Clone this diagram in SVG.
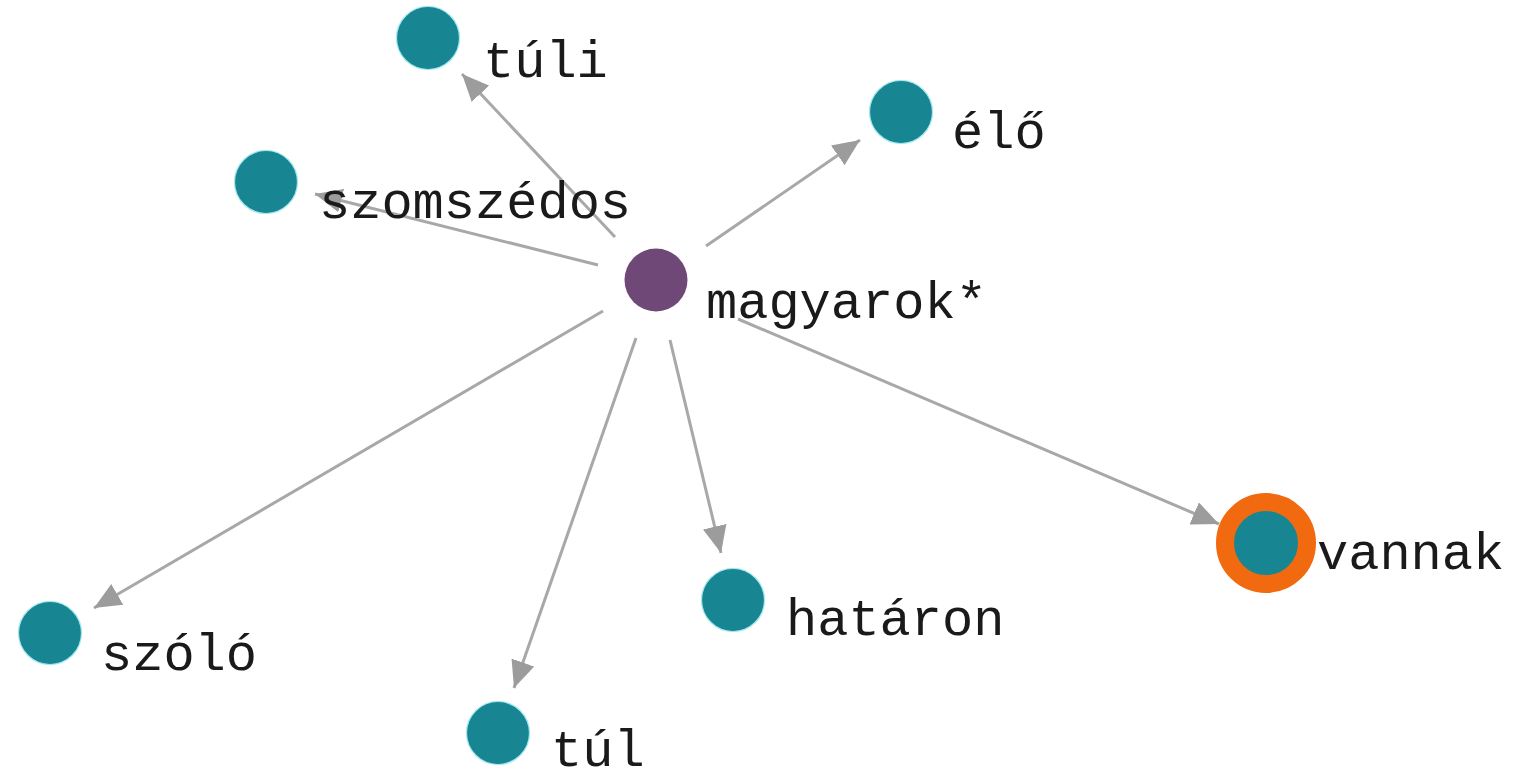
<svg xmlns="http://www.w3.org/2000/svg" width="1516" height="777" viewBox="0 0 1516 777">
  <defs>
    <marker id="arrow" viewBox="0 0 27 24" refX="27" refY="12" markerWidth="27" markerHeight="24" markerUnits="userSpaceOnUse" orient="auto">
      <path d="M0,0 L27,12 L0,24 Z" fill="#9c9c9c"/>
    </marker>
    <style>
      .edge { stroke: #a8a8a8; stroke-width: 3; fill: none; marker-end: url(#arrow); }
      .leaf { fill: #178692; stroke: #9fe8ef; stroke-width: 1.2; }
      .hub { fill: #6f4878; }
      .ring { stroke: #f26a0f; stroke-width: 18; }
      .label { font-family: "Liberation Mono", "Courier New", monospace; font-size: 52px; fill: #1a1a1a; }
    </style>
  </defs>
  <rect width="1516" height="777" fill="#ffffff"/>

  <!-- connectors from the hub to every leaf -->
  <g id="edges">
    <line class="edge" x1="615" y1="237" x2="462" y2="74"/>
    <line class="edge" x1="598" y1="265" x2="315" y2="194"/>
    <line class="edge" x1="706" y1="246" x2="860" y2="140"/>
    <line class="edge" x1="738" y1="319" x2="1219" y2="524"/>
    <line class="edge" x1="670" y1="340" x2="721" y2="553"/>
    <line class="edge" x1="636" y1="338" x2="514" y2="688"/>
    <line class="edge" x1="603" y1="311" x2="94" y2="608"/>
  </g>

  <g id="node-tuli">
    <circle class="leaf" cx="428" cy="38" r="31.5"/>
    <text class="label" x="483" y="77">túli</text>
  </g>
  <g id="node-szomszedos">
    <circle class="leaf" cx="266" cy="182" r="31.5"/>
    <text class="label" x="319" y="218">szomszédos</text>
  </g>
  <g id="node-elo">
    <circle class="leaf" cx="901" cy="112" r="31.5"/>
    <text class="label" x="952" y="148">élő</text>
  </g>
  <g id="node-magyarok">
    <circle class="hub" cx="656" cy="280" r="31.5"/>
    <text class="label" x="706" y="318">magyarok*</text>
  </g>
  <g id="node-vannak">
    <circle class="leaf ring" cx="1266" cy="543" r="41"/>
    <text class="label" x="1317" y="569">vannak</text>
  </g>
  <g id="node-hataron">
    <circle class="leaf" cx="733" cy="600" r="31.5"/>
    <text class="label" x="786" y="635">határon</text>
  </g>
  <g id="node-szolo">
    <circle class="leaf" cx="50" cy="633" r="31.5"/>
    <text class="label" x="101" y="670">szóló</text>
  </g>
  <g id="node-tul">
    <circle class="leaf" cx="498" cy="733" r="31.5"/>
    <text class="label" x="551" y="766">túl</text>
  </g>
</svg>
